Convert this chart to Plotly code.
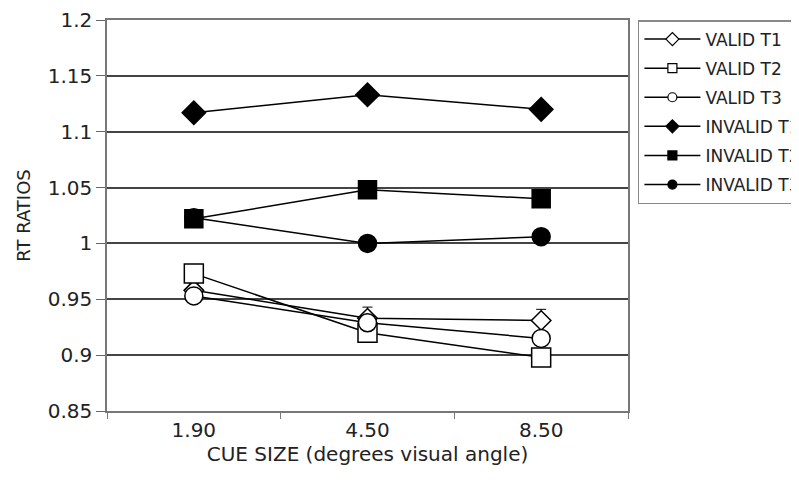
import plotly.graph_objects as go

cue_sizes = ["1.90", "4.50", "8.50"]
valid_t1 = [0.958, 0.933, 0.931]
valid_t2 = [0.973, 0.920, 0.898]
valid_t3 = [0.953, 0.929, 0.915]
invalid_t1 = [1.117, 1.133, 1.120]
invalid_t2 = [1.022, 1.048, 1.040]
invalid_t3 = [1.023, 1.000, 1.006]
err_valid_t1 = [0.006, 0.010, 0.010]
err_invalid_t2 = [0.006, 0.004, 0.005]

series = [
    ("VALID T1", valid_t1, "diamond", "white", 15, err_valid_t1),
    ("VALID T2", valid_t2, "square", "white", 19, None),
    ("VALID T3", valid_t3, "circle", "white", 18, None),
    ("INVALID T1", invalid_t1, "diamond", "black", 18, None),
    ("INVALID T2", invalid_t2, "square", "black", 18, err_invalid_t2),
    ("INVALID T3", invalid_t3, "circle", "black", 18, None),
]

FONT = "DejaVu Sans"
TXT = "#222"
fig = go.Figure()
for i, (name, vals, sym, fill, size, err) in enumerate(series):
    kw = {}
    if err is not None:
        kw["error_y"] = dict(type="data", array=err, visible=True,
                             color="black", thickness=1, width=5)
    fig.add_trace(go.Scatter(
        x=cue_sizes, y=vals, name=name, mode="lines+markers",
        showlegend=False,
        line=dict(color="black", width=1.5),
        marker=dict(symbol=sym, size=size, color=fill,
                    line=dict(color="black", width=1.5)),
        **kw))

# legend-only entries with small markers (as in the original legend)
for i, (name, vals, sym, fill, size, err) in enumerate(series):
    fig.add_trace(go.Scatter(
        x=[None], y=[None], name=name, mode="lines+markers",
        legendgroup="g%d" % i, hoverinfo="skip",
        line=dict(color="black", width=1.5),
        marker=dict(symbol=sym, size=9 if "diamond" != sym else 10,
                    color=fill, line=dict(color="black", width=1.2)),
    ))

fig.update_layout(
    width=791, height=472,
    margin=dict(l=99, r=171, t=12, b=69, autoexpand=False),
    plot_bgcolor="white", paper_bgcolor="white",
    font=dict(family=FONT, size=16, color=TXT),
    legend=dict(x=1.019, y=1.0, xanchor="left", yanchor="top",
                bordercolor="#888", borderwidth=1.5,
                font=dict(family=FONT, size=17, color=TXT),
                tracegroupgap=4, itemwidth=56),
    xaxis=dict(
        type="category", range=[-0.5, 2.5], tickson="boundaries",
        ticks="outside", ticklen=6, automargin=False,
        tickcolor="#777", showline=True, linecolor="#777", linewidth=1.5,
        mirror=True, showgrid=False,
        tickfont=dict(family=FONT, size=20, color=TXT),
        title=dict(text="CUE SIZE (degrees visual angle)",
                   font=dict(family=FONT, size=20, color=TXT), standoff=6),
    ),
    yaxis=dict(
        range=[0.85, 1.2], dtick=0.05, tick0=0.85, ticks="outside",
        ticklen=9, tickcolor="#666", showline=True, linecolor="#777",
        linewidth=1.5, mirror=True, showgrid=True, gridcolor="#444",
        gridwidth=1.8, zeroline=False, tickformat="~g", automargin=False,
        tickfont=dict(family=FONT, size=20, color=TXT),
        title=dict(text="RT RATIOS",
                   font=dict(family=FONT, size=18, color=TXT), standoff=12),
    ),
)

fig.write_html("out.html")
